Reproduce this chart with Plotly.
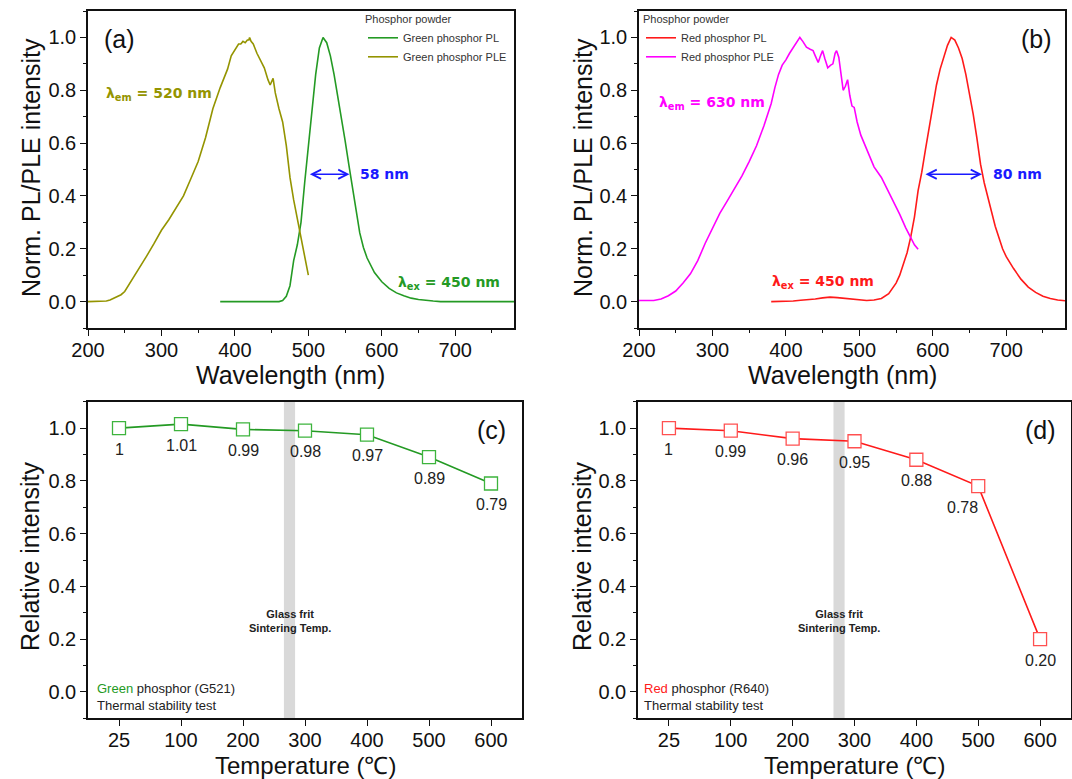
import plotly.graph_objects as go

# ---------------- data ----------------
# (a) green phosphor
g_ple_wl = [200, 210, 220, 225, 230, 235, 240, 245, 250, 255, 260, 265, 270, 280, 290, 300, 310, 320, 330,
            340, 350, 360, 370, 380, 390, 395, 400, 405, 408, 411, 414, 417, 419, 420, 422, 425, 430, 435,
            440, 445, 448, 452, 455, 460, 465, 470, 475, 480, 485, 490, 495, 500]
g_ple_val = [0.0, 0.0, 0.0, 0.002, 0.006, 0.013, 0.019, 0.026, 0.038, 0.06, 0.083, 0.105, 0.128, 0.173,
             0.22, 0.27, 0.31, 0.355, 0.40, 0.465, 0.53, 0.62, 0.73, 0.81, 0.88, 0.93, 0.955, 0.975, 0.975,
             0.985, 0.98, 0.99, 0.99, 1.0, 0.985, 0.975, 0.94, 0.91, 0.885, 0.84, 0.82, 0.845, 0.79, 0.73,
             0.68, 0.59, 0.47, 0.385, 0.31, 0.24, 0.17, 0.10]
g_pl_wl = [380, 400, 420, 440, 460, 465, 470, 475, 480, 485, 490, 495, 500, 505, 510, 515, 520, 525, 530,
           535, 540, 545, 550, 555, 560, 565, 570, 575, 580, 590, 600, 610, 620, 630, 640, 650, 660, 670,
           680, 700, 720, 740, 760, 780]
g_pl_val = [0.0, 0.0, 0.0, 0.0, 0.0, 0.004, 0.02, 0.06, 0.155, 0.215, 0.30, 0.45, 0.58, 0.73, 0.86, 0.96,
            1.0, 0.98, 0.93, 0.86, 0.78, 0.69, 0.61, 0.52, 0.43, 0.34, 0.26, 0.205, 0.165, 0.11, 0.075,
            0.05, 0.033, 0.022, 0.013, 0.008, 0.004, 0.002, 0.0, 0.0, 0.0, -0.002, 0.0, 0.0]

# (b) red phosphor
r_ple_wl = [200, 210, 220, 230, 240, 250, 260, 270, 280, 290, 300, 310, 320, 330, 340, 350, 360, 370, 380,
            385, 390, 395, 400, 405, 410, 415, 419, 423, 428, 433, 437, 440, 444, 447, 450, 453, 457, 461,
            464, 467, 469, 472, 475, 478, 481, 484, 487, 490, 493, 497, 502, 510, 520, 530, 540, 546, 555,
            563, 569, 575, 580]
r_ple_val = [0.004, 0.004, 0.004, 0.01, 0.022, 0.04, 0.07, 0.105, 0.155, 0.22, 0.28, 0.334, 0.38, 0.425,
             0.475, 0.53, 0.59, 0.665, 0.75, 0.81, 0.86, 0.895, 0.915, 0.94, 0.963, 0.985, 1.0, 0.985,
             0.963, 0.955, 0.95, 0.93, 0.905, 0.93, 0.95, 0.92, 0.885, 0.895, 0.9, 0.94, 0.95, 0.925,
             0.86, 0.80, 0.815, 0.84, 0.78, 0.74, 0.735, 0.68, 0.63, 0.574, 0.51, 0.47, 0.415, 0.385,
             0.33, 0.28, 0.246, 0.215, 0.198]
r_pl_wl = [380, 390, 400, 410, 420, 430, 440, 450, 460, 470, 480, 490, 500, 510, 520, 530, 540, 545, 550,
           555, 560, 565, 570, 575, 580, 585, 590, 595, 600, 605, 610, 615, 620, 625, 630, 635, 640, 645,
           650, 655, 660, 665, 670, 675, 680, 685, 690, 695, 700, 705, 710, 720, 730, 740, 750, 760, 770, 780]
r_pl_val = [0.0, 0.0, 0.0, 0.002, 0.005, 0.007, 0.01, 0.014, 0.017, 0.015, 0.012, 0.008, 0.005, 0.004,
            0.006, 0.012, 0.03, 0.05, 0.07, 0.10, 0.14, 0.185, 0.245, 0.32, 0.42, 0.49, 0.575, 0.66, 0.74,
            0.82, 0.88, 0.93, 0.97, 1.0, 0.99, 0.96, 0.92, 0.86, 0.79, 0.71, 0.62, 0.52, 0.45, 0.40, 0.34,
            0.285, 0.24, 0.20, 0.17, 0.145, 0.125, 0.085, 0.055, 0.035, 0.02, 0.012, 0.006, 0.003]

# FWHM arrows (nm)
g_fwhm = (500, 556, 0.482)
r_fwhm = (588, 667, 0.482)

# (c), (d) thermal stability
temps = ["25", "100", "200", "300", "400", "500", "600"]
g_rel = [1.0, 1.015, 0.995, 0.99, 0.975, 0.89, 0.79]
g_lbl = ["1", "1.01", "0.99", "0.98", "0.97", "0.89", "0.79"]
r_rel = [1.0, 0.99, 0.96, 0.95, 0.88, 0.78, 0.20]
r_lbl = ["1", "0.99", "0.96", "0.95", "0.88", "0.78", "0.20"]
sinter_band = (2.66, 2.84)  # glass frit sintering temp (category-index units, ~270-280 C)

# ---------------- styles ----------------
OLIVE = "#949400"
GREEN = "#249a24"
GREEN_M = "#3db43d"
MAGENTA = "#ff00ff"
RED = "#ff1a1a"
RED_M = "#ff5050"
BLUE = "#1a1aff"
FONT = "Liberation Sans, Arial, sans-serif"
NARROW = "Liberation Sans Narrow, Arial Narrow, Liberation Sans, sans-serif"
BOLDF = "DejaVu Sans, Verdana, sans-serif"

W, H = 1072, 779
def px(x): return x / W
def py(y): return 1 - y / H

fig = go.Figure()

fig.add_trace(go.Scatter(x=g_pl_wl, y=g_pl_val, mode="lines", name="Green phosphor PL",
                         line=dict(color=GREEN, width=1.6), xaxis="x", yaxis="y", legend="legend"))
fig.add_trace(go.Scatter(x=g_ple_wl, y=g_ple_val, mode="lines", name="Green phosphor PLE",
                         line=dict(color=OLIVE, width=1.6), xaxis="x", yaxis="y", legend="legend"))
fig.add_trace(go.Scatter(x=r_pl_wl, y=r_pl_val, mode="lines", name="Red phosphor PL",
                         line=dict(color=RED, width=1.6), xaxis="x2", yaxis="y2", legend="legend2"))
fig.add_trace(go.Scatter(x=r_ple_wl, y=r_ple_val, mode="lines", name="Red phosphor PLE",
                         line=dict(color=MAGENTA, width=1.6), xaxis="x2", yaxis="y2", legend="legend2"))

xi = list(range(len(temps)))
fig.add_trace(go.Scatter(x=xi, y=g_rel, mode="lines+markers", showlegend=False,
                         line=dict(color=GREEN, width=1.6),
                         marker=dict(symbol="square", size=13, color="white",
                                     line=dict(color=GREEN_M, width=1.3)),
                         xaxis="x3", yaxis="y3"))
fig.add_trace(go.Scatter(x=xi, y=r_rel, mode="lines+markers", showlegend=False,
                         line=dict(color=RED, width=1.6),
                         marker=dict(symbol="square", size=13, color="white",
                                     line=dict(color=RED_M, width=1.3)),
                         xaxis="x4", yaxis="y4"))

# gray sintering band
for xr, yr in (("x3", "y3"), ("x4", "y4")):
    fig.add_shape(type="rect", xref=xr, yref=yr + " domain", x0=sinter_band[0], x1=sinter_band[1],
                  y0=0, y1=1, fillcolor="#d9d9d9", line_width=0, layer="below")

axis_common = dict(showline=True, linecolor="#111", linewidth=1.5, mirror=True, ticks="outside",
                   ticklen=6, tickwidth=1.3, tickcolor="#111", showgrid=False, zeroline=False,
                   automargin=False, tickfont=dict(family=FONT, size=20, color="#111"))

dom_ax = (px(88), px(514))
dom_bx = (px(639), px(1065))
dom_top = (py(328), py(11))
dom_cx = (px(88), px(522))
dom_dx = (px(638), px(1071))
dom_bot = (py(718.3), py(401.7))

minor_x = dict(ticks="outside", ticklen=3, tickwidth=1.2, tickcolor="#111", dtick=50, showgrid=False)
minor_y = dict(ticks="outside", ticklen=3, tickwidth=1.2, tickcolor="#111", dtick=0.1, showgrid=False)

fig.update_layout(
    template="none",
    xaxis=dict(domain=dom_ax, anchor="y", range=[200, 780], dtick=100, tick0=200, minor=minor_x,
               ticklabelstandoff=-3, **axis_common),
    yaxis=dict(domain=dom_top, anchor="x", range=[-0.1, 1.1], dtick=0.2, tick0=0, tickformat=".1f",
               minor=minor_y, **axis_common),
    xaxis2=dict(domain=dom_bx, anchor="y2", range=[200, 780], dtick=100, tick0=200, minor=minor_x,
                ticklabelstandoff=-3, **axis_common),
    yaxis2=dict(domain=dom_top, anchor="x2", range=[-0.1, 1.1], dtick=0.2, tick0=0, tickformat=".1f",
                minor=minor_y, **axis_common),
    xaxis3=dict(domain=dom_cx, anchor="y3", range=[-0.5, 6.5], tickmode="array", tickvals=xi,
                ticktext=temps, ticklabelstandoff=-3, **axis_common),
    yaxis3=dict(domain=dom_bot, anchor="x3", range=[-0.1, 1.1], dtick=0.2, tick0=0, tickformat=".1f",
                minor=minor_y, **axis_common),
    xaxis4=dict(domain=dom_dx, anchor="y4", range=[-0.5, 6.5], tickmode="array", tickvals=xi,
                ticktext=temps, ticklabelstandoff=-3, **axis_common),
    yaxis4=dict(domain=dom_bot, anchor="x4", range=[-0.1, 1.1], dtick=0.2, tick0=0, tickformat=".1f",
                minor=minor_y, **axis_common),
    width=W, height=H, margin=dict(l=0, r=0, t=0, b=0, autoexpand=False),
    paper_bgcolor="white", plot_bgcolor="white",
    font=dict(family=FONT, color="#111"),
    legend=dict(title=dict(text="Phosphor powder", font=dict(size=11, family=FONT, color="#333")),
                font=dict(size=11, family=FONT, color="#333"), x=px(512), xanchor="right",
                y=py(9), yanchor="top", bgcolor="rgba(0,0,0,0)", tracegroupgap=0, itemwidth=30),
    legend2=dict(title=dict(text="Phosphor powder", font=dict(size=11, family=FONT, color="#333")),
                 font=dict(size=11, family=FONT, color="#333"), x=px(641), xanchor="left",
                 y=py(9), yanchor="top", bgcolor="rgba(0,0,0,0)", tracegroupgap=0, itemwidth=30),
)

ann = []
def A(**kw):
    kw.setdefault("xanchor", "center")
    kw.setdefault("yanchor", "middle")
    ann.append(kw)

# axis titles
for x in (31, 583):
    A(text="Norm. PL/PLE intensity", x=px(x), y=py(168), xref="paper", yref="paper", textangle=-90,
      showarrow=False, font=dict(size=25, family=FONT, color="#111"))
for x in (290, 842):
    A(text="Wavelength (nm)", x=px(x), y=py(375), xref="paper", yref="paper", showarrow=False,
      font=dict(size=25, family=FONT, color="#111"))
for x in (30, 582):
    A(text="Relative intensity", x=px(x), y=py(557), xref="paper", yref="paper", textangle=-90,
      showarrow=False, font=dict(size=25, family=FONT, color="#111"))
for x in (305, 854):
    A(text="Temperature (℃)", x=px(x), y=py(765), xref="paper", yref="paper", showarrow=False,
      font=dict(size=24, family=FONT, color="#111"))

# panel letters
for t, x, y in (("(a)", 119, 39), ("(b)", 1036, 39), ("(c)", 491, 430), ("(d)", 1040, 430)):
    A(text=t, x=px(x), y=py(y), xref="paper", yref="paper", showarrow=False,
      font=dict(size=25, family=FONT, color="#111"))

# lambda labels
A(text="<b>λ<sub>em</sub> = 520 nm</b>", x=296, y=0.785, xref="x", yref="y", showarrow=False,
  font=dict(size=14, family=BOLDF, color=OLIVE))
A(text="<b>λ<sub>ex</sub> = 450 nm</b>", x=691, y=0.07, xref="x", yref="y", showarrow=False,
  font=dict(size=14, family=BOLDF, color=GREEN))
A(text="<b>λ<sub>em</sub> = 630 nm</b>", x=299, y=0.751, xref="x2", yref="y2", showarrow=False,
  font=dict(size=14, family=BOLDF, color=MAGENTA))
A(text="<b>λ<sub>ex</sub> = 450 nm</b>", x=450, y=0.074, xref="x2", yref="y2", showarrow=False,
  font=dict(size=14, family=BOLDF, color=RED))

# FWHM arrows and labels
for (x0, x1, yv), xr, yr, lbl in ((g_fwhm, "x", "y", "58 nm"), (r_fwhm, "x2", "y2", "80 nm")):
    ann.append(dict(text="", x=x1, y=yv, ax=x0, ay=yv, xref=xr, yref=yr, axref=xr, ayref=yr,
                    showarrow=True, arrowhead=5, startarrowhead=5, arrowside="end+start", arrowsize=1.3,
                    arrowwidth=1.4, arrowcolor=BLUE, standoff=0, startstandoff=0))
    A(text=f"<b>{lbl}</b>", x=x1 + 12, y=yv, xref=xr, yref=yr, xanchor="left", showarrow=False,
      font=dict(size=14, family=BOLDF, color=BLUE))

# data labels under markers
for xr, yr, vals, lbls in (("x3", "y3", g_rel, g_lbl), ("x4", "y4", r_rel, r_lbl)):
    for i, (v, l) in enumerate(zip(vals, lbls)):
        shift = -16 if (xr == "x4" and i == 5) else 0
        A(text=l, x=i, y=v, xref=xr, yref=yr, showarrow=False, yshift=-21, xshift=shift,
          font=dict(size=16, family=NARROW, color="#222"))

# sintering text
for xr, yr in (("x3", "y3"), ("x4", "y4")):
    A(text="<b>Glass frit<br>Sintering Temp.</b>", x=sum(sinter_band) / 2, y=0.27, xref=xr, yref=yr,
      showarrow=False, font=dict(size=11, family=NARROW, color="#222"))

# sample descriptions
A(text=f"<span style='color:{GREEN}'>Green</span> phosphor (G521)<br>Thermal stability test",
  x=px(95), y=py(697), xref="paper", yref="paper", xanchor="left", align="left", showarrow=False,
  font=dict(size=13, family=NARROW, color="#222"))
A(text=f"<span style='color:{RED}'>Red</span> phosphor (R640)<br>Thermal stability test",
  x=px(642), y=py(697), xref="paper", yref="paper", xanchor="left", align="left", showarrow=False,
  font=dict(size=13, family=NARROW, color="#222"))

fig.update_layout(annotations=ann)
fig.write_html("out.html")
